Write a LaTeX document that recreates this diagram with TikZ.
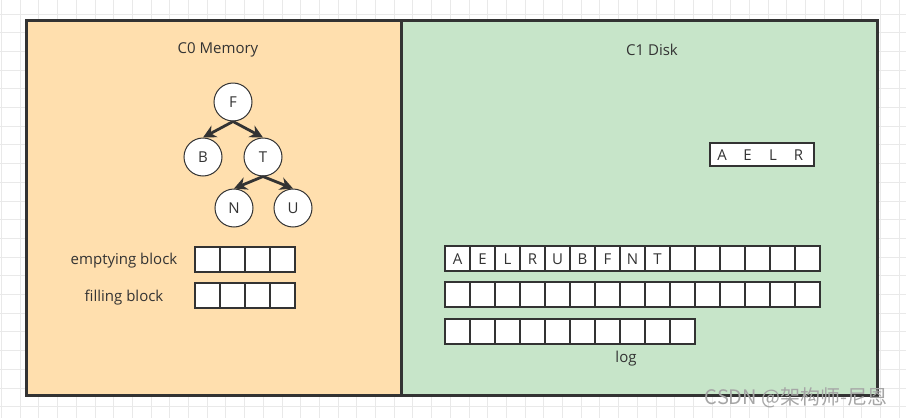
\documentclass[tikz,border=0pt]{standalone}
\usepackage{fontspec}
\setmainfont{Open Sans}
\newfontfamily\cjkfont{Noto Sans CJK SC}
\usetikzlibrary{arrows.meta, positioning}
\definecolor{inkgray}{RGB}{51,51,51}
\definecolor{memfill}{RGB}{255,223,174}
\definecolor{diskfill}{RGB}{199,229,201}
\definecolor{gridgray}{RGB}{233,233,233}

\begin{document}
\begin{tikzpicture}[
    x=1pt, y=-1pt,
    every node/.style={text=inkgray, font=\fontsize{15}{18}\selectfont},
    panel/.style={rectangle, draw=inkgray, line width=3pt, minimum height=375pt, inner sep=0pt},
    key/.style={circle, draw=inkgray, fill=white, line width=1pt, minimum size=38pt, inner sep=0pt},
    cell/.style={rectangle, draw=inkgray, fill=white, line width=1.2pt, minimum size=25pt, inner sep=0pt},
    link/.style={draw=inkgray, line width=2.8pt, -{Stealth[length=13pt, width=13pt]}}
]
\useasboundingbox (0,0) rectangle (906,418);

% background grid
\foreach \k in {0,...,48}
    \draw[gridgray, line width=1pt] (1.5+18.7*\k, 0) -- (1.5+18.7*\k, 418);
\foreach \k in {0,...,21}
    \draw[gridgray, line width=1pt] (0, 14+18.7*\k) -- (906, 14+18.7*\k);

% the two levels
\node[panel, fill=memfill, minimum width=375pt] (mem) at (213.5,207.5) {};
\node[panel, fill=diskfill, minimum width=476pt] (disk) at (639,207.5) {};
\node (memtitle) at (218,50) {C0 Memory};
\node (disktitle) at (652,50) {C1 Disk};

% C0 tree
\node[key] (F) at (233,102) {F};
\node[key] (B) at (203,157) {B};
\node[key] (T) at (263,157) {T};
\node[key] (N) at (234,208) {N};
\node[key] (U) at (293,208) {U};
\draw[link] (F.south) -- (B.north);
\draw[link] (F.south) -- (T.north);
\draw[link] (T.south) -- (N.north);
\draw[link] (T.south) -- (U.north);

% C0 blocks
\foreach \i in {0,...,3} {
    \node[cell] (empty\i) at (207.5+25*\i, 259.5) {};
    \node[cell] (fill\i) at (207.5+25*\i, 295.5) {};
}
\node (emptylabel) at (124,261) {emptying block};
\node (filllabel) at (124,298) {filling block};

% C1 run
\node[rectangle, draw=inkgray, fill=white, line width=1.2pt, minimum width=104pt, minimum height=23pt] (run) at (762,154.5) {};
\foreach \l [count=\i from 0] in {A,E,L,R}
    \node (run\i) at (722+25.5*\i, 155.5) {\l};

% C1 log
\foreach \i in {0,...,14} {
    \node[cell] (top\i) at (457.5+25*\i, 258.5) {};
    \node[cell] (mid\i) at (457.5+25*\i, 294.5) {};
}
\foreach \i in {0,...,9}
    \node[cell] (log\i) at (457.5+25*\i, 331.5) {};
\foreach \l [count=\i from 0] in {A,E,L,R,U,B,F,N,T}
    \node at ([yshift=-1pt]top\i) {\l};
\node (loglabel) at (626,359) {log};

\node[font=\cjkfont\fontsize{20}{24}\selectfont, text=gray!70, anchor=east] (mark) at (891,398) {CSDN @架构师-尼恩};

\end{tikzpicture}
\end{document}
